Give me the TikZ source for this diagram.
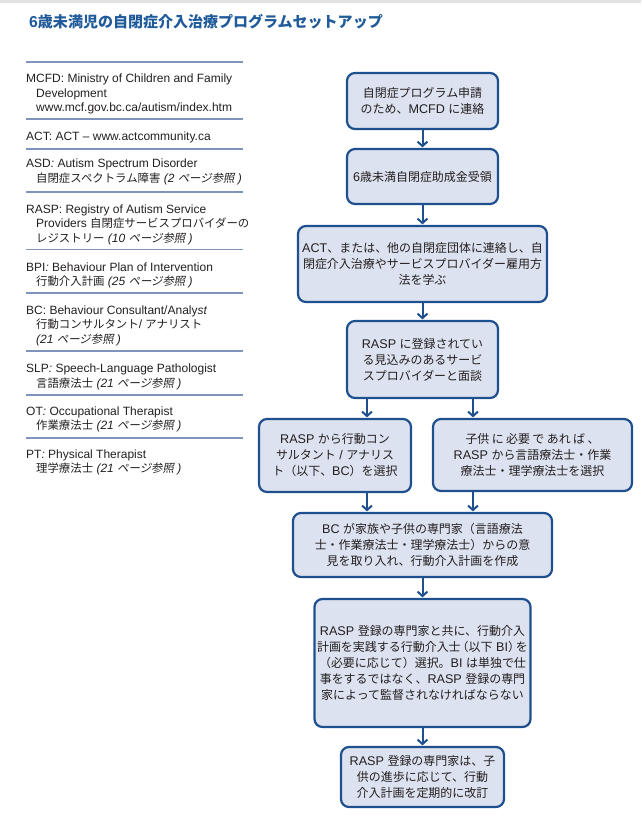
\documentclass[tikz,border=0pt]{standalone}
\usepackage{fontspec}
\setmainfont{Liberation Sans}
\newfontfamily\jpfamily{Noto Sans CJK JP}[Scale=0.95, ItalicFont={Noto Sans CJK JP}, ItalicFeatures={FakeSlant=0.2}]
\usetikzlibrary{arrows.meta}
% automatic switch to the Japanese font for CJK characters
\XeTeXinterchartokenstate=1
\chardef\JPcls=17
\newcount\jpc
\jpc="2E80
\loop \XeTeXcharclass\jpc=\JPcls \advance\jpc by 1 \ifnum\jpc<"A000 \repeat
\jpc="FF00
\loop \XeTeXcharclass\jpc=\JPcls \advance\jpc by 1 \ifnum\jpc<"FFF0 \repeat
\XeTeXinterchartoks 0 \JPcls = {\jpfamily}
\XeTeXinterchartoks 4095 \JPcls = {\jpfamily}
\XeTeXinterchartoks \JPcls 0 = {\rmfamily}
\XeTeXinterchartoks \JPcls 4095 = {\rmfamily}
\XeTeXinterchartoks 1 \JPcls = {\jpfamily}
\XeTeXinterchartoks 2 \JPcls = {\jpfamily}
\XeTeXinterchartoks 3 \JPcls = {\jpfamily}
\XeTeXinterchartoks \JPcls 1 = {\rmfamily}
\XeTeXinterchartoks \JPcls 2 = {\rmfamily}
\XeTeXinterchartoks \JPcls 3 = {\rmfamily}

\definecolor{boxblue}{HTML}{1E4F8F}
\definecolor{boxfill}{HTML}{DCE2EF}
\definecolor{titleblue}{HTML}{1F5A9A}
\definecolor{rulecol}{HTML}{7F93BB}
\definecolor{txt}{HTML}{231F20}
\definecolor{topgray}{HTML}{E2E2E2}

\newcommand\boxfont{\fontsize{12.6}{16}\selectfont}
\newcommand\legfont{\fontsize{12}{14.4}\selectfont}
\newcommand\titlefont{\fontsize{15.8}{19}\selectfont\bfseries}
\newcommand\ind{\hspace*{10pt}}
\newcommand\fs{\rule{0pt}{10.5pt}}

\tikzset{
  flow/.style={draw=boxblue, line width=2.2pt, fill=boxfill, rounded corners=8pt,
    align=center, inner sep=0pt, font=\boxfont, text=txt},
  arr/.style={draw=boxblue, line width=2pt, shorten >=0.5pt,
    -{Straight Barb[length=4.5pt,width=10pt]}},
  leg/.style={anchor=north west, align=left, inner sep=0pt, font=\legfont, text=txt},
  sep/.style={draw=rulecol, line width=1.3pt}
}

\begin{document}
\begin{tikzpicture}[x=1pt,y=-1pt]
\useasboundingbox (0,0) rectangle (641,823);
\fill[topgray] (0,0) rectangle (641,2.5);

% title
\node[anchor=west, font=\titlefont, text=titleblue, inner sep=0pt] (title) at (29,21.5)
  {6歳未満児の自閉症介入治療プログラムセットアップ};

% legend separators
\foreach \yy in {62,119,149,192,249.5,293,351,395,438}
  \draw[sep] (26,\yy) -- (243,\yy);

% legend entries
\node[leg] (mcfd) at (26,72.0) {\fs MCFD: Ministry of Children and Family\\\ind Development\\\ind www.mcf.gov.bc.ca/autism/index.htm};
\node[leg] (act) at (26,129.7) {\fs ACT: ACT – www.actcommunity.ca};
\node[leg] (asd) at (26,157.0) {\fs ASD\textit{:} Autism Spectrum Disorder\\\ind 自閉症スペクトラム障害 \textit{(2 ページ参照 )}};
\node[leg] (rasp) at (26,202.7) {\fs RASP: Registry of Autism Service\\\ind Providers 自閉症サービスプロバイダーの\\\ind レジストリー \textit{(10 ページ参照 )}};
\node[leg] (bpi) at (26,260.4) {\fs BPI\textit{:} Behaviour Plan of Intervention\\\ind 行動介入計画 \textit{(25 ページ参照 )}};
\node[leg] (bc) at (26,303.7) {\fs BC: Behaviour Consultant/Analy\textit{st}\\\ind 行動コンサルタント/ アナリスト\\\ind \textit{(21 ページ参照 )}};
\node[leg] (slp) at (26,362.0) {\fs SLP\textit{:} Speech-Language Pathologist\\\ind 言語療法士 \textit{(21 ページ参照 )}};
\node[leg] (ot) at (26,404.7) {\fs OT\textit{:} Occupational Therapist\\\ind 作業療法士 \textit{(21 ページ参照 )}};
\node[leg] (pt) at (26,447.7) {\fs PT\textit{:} Physical Therapist\\\ind 理学療法士 \textit{(21 ページ参照 )}};

% flow boxes
\node[flow, minimum width=151pt, minimum height=56pt] (b1) at (422.5,101)
  {自閉症プログラム申請\\のため、MCFD に連絡};
\node[flow, minimum width=151pt, minimum height=55pt] (b2) at (422.5,176.5)
  {6歳未満自閉症助成金受領};
\node[flow, minimum width=249pt, minimum height=76pt] (b3) at (422.5,264)
  {ACT、または、他の自閉症団体に連絡し、自\\閉症介入治療やサービスプロバイダー雇用方\\法を学ぶ};
\node[flow, minimum width=151pt, minimum height=77pt] (b4) at (422.5,359.5)
  {RASP に登録されてい\\る見込みのあるサービ\\スプロバイダーと面談};
\node[flow, minimum width=152pt, minimum height=73pt] (b5l) at (335,455.5)
  {RASP から行動コン\\サルタント / アナリス\\ト（以下、BC）を選択};
\node[flow, minimum width=199pt, minimum height=72pt] (b5r) at (532.5,455)
  {\makebox[134pt][s]{子供 に 必要 で あれ ば 、}\\RASP から言語療法士・作業\\療法士・理学療法士を選択};
\node[flow, minimum width=259pt, minimum height=64pt] (b6) at (422.5,545)
  {BC が家族や子供の専門家（言語療法\\士・作業療法士・理学療法士）からの意\\見を取り入れ、行動介入計画を作成};
\node[flow, minimum width=216pt, minimum height=128pt] (b7) at (422.5,663)
  {RASP 登録の専門家と共に、行動介入\\計画を実践する行動介入士\kern-4pt（以下 BI）\kern-4pt を\\（必要に応じて）選択。BI は単独で仕\\事をするではなく、RASP 登録の専門\\家によって監督されなければならない};
\node[flow, minimum width=163pt, minimum height=60pt] (b8) at (422.5,777)
  {RASP 登録の専門家は、子\\供の進歩に応じて、行動\\介入計画を定期的に改訂};

% connectors
\coordinate (xl) at (367,0);
\coordinate (xr) at (473,0);
\draw[arr] (b1.south) -- (b2.north);
\draw[arr] (b2.south) -- (b3.north);
\draw[arr] (b3.south) -- (b4.north);
\draw[arr] (b4.south -| xl) -- (b5l.north -| xl);
\draw[arr] (b4.south -| xr) -- (b5r.north -| xr);
\draw[arr] (b5l.south -| xl) -- (b6.north -| xl);
\draw[arr] (b5r.south -| xr) -- (b6.north -| xr);
\draw[arr] (b6.south) -- (b7.north);
\draw[arr] (b7.south) -- (b8.north);
\end{tikzpicture}
\end{document}
